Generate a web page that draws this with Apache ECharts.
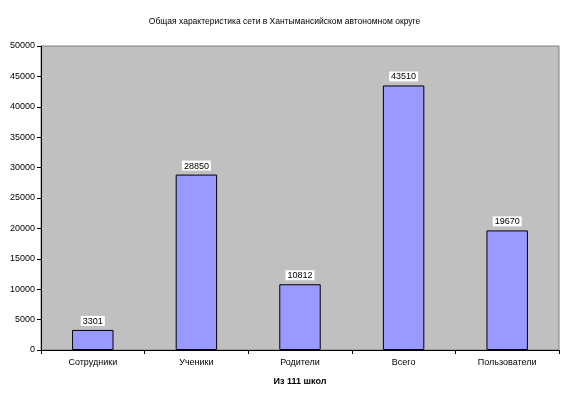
<!DOCTYPE html>
<html>
<head>
<meta charset="utf-8">
<script src="https://cdn.jsdelivr.net/npm/echarts@6/dist/echarts.min.js"></script>
<style>html,body{margin:0;padding:0;background:#fff;}#c{width:569px;height:395px;}</style>
</head>
<body>
<div id="c"></div>
<script>
const titleText = 'Общая характеристика сети в Хантымансийском автономном округе';
const categories = ['Сотрудники', 'Ученики', 'Родители', 'Всего', 'Пользователи'];
const values = [3301, 28850, 10812, 43510, 19670];
const xAxisName = 'Из 111 школ';

const font = '"Liberation Sans", Arial, sans-serif';
const chart = echarts.init(document.getElementById('c'), null, {renderer: 'canvas'});
chart.setOption({
  animation: false,
  backgroundColor: '#ffffff',
  textStyle: {fontFamily: font},
  title: {
    text: titleText,
    left: 'center',
    top: 12,
    textStyle: {fontSize: 8.5, fontWeight: 'normal', color: '#000', fontFamily: font}
  },
  grid: {
    left: 41, right: 10, top: 46, bottom: 45,
    show: true, backgroundColor: '#C0C0C0', borderColor: '#808080', borderWidth: 1
  },
  xAxis: {
    type: 'category',
    data: categories,
    name: xAxisName,
    nameLocation: 'middle',
    nameGap: 27,
    nameTextStyle: {fontSize: 9, fontWeight: 'bold', color: '#000', fontFamily: font},
    axisLine: {lineStyle: {color: '#000', width: 1}},
    axisTick: {show: true, length: 4, lineStyle: {color: '#000'}},
    axisLabel: {fontSize: 9, color: '#000', margin: 8, fontFamily: font}
  },
  yAxis: {
    type: 'value',
    min: 0, max: 50000, interval: 5000,
    axisLine: {show: true, lineStyle: {color: '#000', width: 1}},
    axisTick: {show: true, length: 4, lineStyle: {color: '#000'}},
    axisLabel: {fontSize: 9, color: '#000', margin: 6, fontFamily: font, formatter: function (v) { return String(v); }},
    splitLine: {show: false}
  },
  series: [{
    type: 'bar',
    data: values,
    barWidth: '40%',
    itemStyle: {color: '#9999FF', borderColor: '#000', borderWidth: 1},
    label: {
      show: true, position: 'top', distance: 4,
      fontSize: 9, color: '#000', backgroundColor: '#fff', padding: [1, 2, 0, 2],
      fontFamily: font
    }
  }]
});
</script>
</body>
</html>
